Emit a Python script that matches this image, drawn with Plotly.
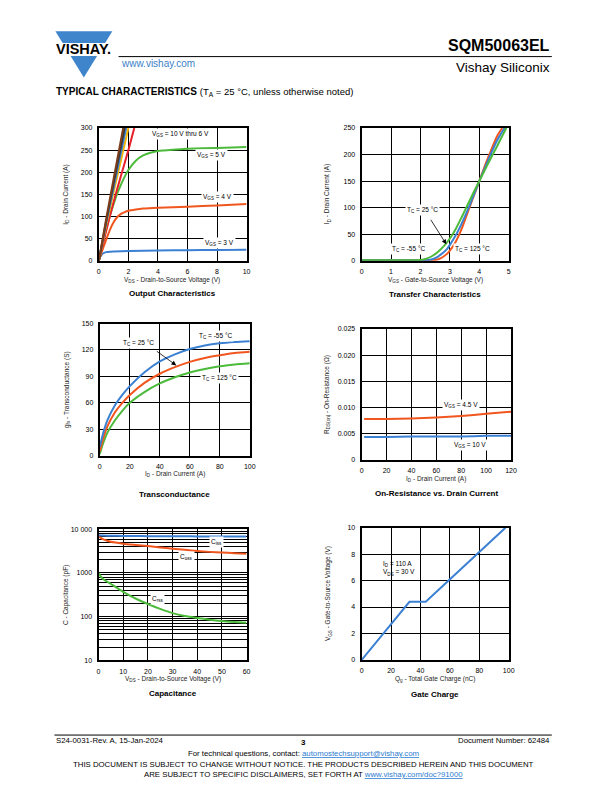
import plotly.graph_objects as go
import math

W, H = 612, 792
OFF = 8  # page margin of the html body
FONT = "Arial, Liberation Sans, sans-serif"

# ---------------- DATA ----------------
# Output characteristics (ID vs VDS)
out_vds_10v = [0, 0.5, 1.0, 1.65]
out_id_10v = [0, 95, 185, 300]
out_vds_9v = [0, 0.5, 1.0, 1.75]
out_id_9v = [0, 90, 175, 300]
out_vds_8v = [0, 0.5, 1.0, 1.85]
out_id_8v = [0, 85, 165, 300]
out_vds_7v = [0, 0.5, 1.0, 2.0]
out_id_7v = [0, 80, 155, 300]
out_vds_6v = [0, 0.5, 1.0, 1.5, 2.0, 2.4]
out_id_6v = [0, 68, 133, 192, 250, 300]
out_vds_5v = [0, 0.25, 0.5, 0.75, 1.0, 1.25, 1.5, 1.75, 2.0, 2.5, 3.0, 3.5, 4.0, 5.0, 6.0, 8.0, 10.0]
out_id_5v = [0, 38, 72, 102, 128, 152, 172, 190, 205, 226, 238, 244, 248, 251, 253, 255, 257]
out_vds_4v = [0, 0.25, 0.5, 0.75, 1.0, 1.25, 1.5, 1.75, 2.0, 2.5, 3.0, 4.0, 6.0, 8.0, 10.0]
out_id_4v = [0, 25, 48, 70, 87, 99, 106, 110, 113, 116, 118, 120, 122, 125, 128]
out_vds_3v = [0, 0.05, 0.1, 0.2, 0.3, 0.5, 0.8, 1.0, 2.0, 4.0, 6.0, 8.0, 10.0]
out_id_3v = [0, 5, 9, 14, 17, 19.5, 20.5, 21, 22, 23, 24, 24.5, 25]

# Transfer characteristics (ID vs VGS)
tr_vgs_m55 = [0, 1.0, 2.0, 2.2, 2.4, 2.6, 2.8, 3.0, 3.2, 3.4, 3.6, 3.8, 4.0, 4.2, 4.4, 4.6, 4.8, 4.92]
tr_id_m55 = [1, 1, 1.5, 4, 9, 17, 28, 42, 60, 82, 105, 128, 150, 172, 194, 215, 237, 250]
tr_vgs_25 = [0, 1.0, 2.0, 2.3, 2.5, 2.7, 2.9, 3.0, 3.2, 3.4, 3.6, 3.8, 4.0, 4.2, 4.4, 4.6, 4.86]
tr_id_25 = [1, 1, 1, 1.5, 5, 12, 22, 30, 48, 70, 95, 122, 150, 176, 202, 226, 250]
tr_vgs_125 = [0, 1.0, 2.0, 2.5, 2.7, 2.9, 3.0, 3.2, 3.4, 3.6, 3.8, 4.0, 4.2, 4.4, 4.6, 4.78]
tr_id_125 = [1, 1, 1, 1.5, 5, 13, 19, 36, 60, 90, 120, 150, 180, 208, 234, 250]

# Transconductance (gfs vs ID)
gfs_id = [0, 2, 5, 10, 15, 20, 30, 40, 50, 60, 70, 80, 90, 100]
gfs_m55 = [10, 24, 40, 57, 69, 79, 95, 107, 115, 121, 125, 127.5, 129, 130]
gfs_25 = [5, 18, 33, 49, 60, 69, 83, 93, 100.5, 106.5, 111, 114, 116.5, 118]
gfs_125 = [2, 13, 26, 40, 51, 60, 72.5, 82, 89, 94.5, 98.5, 101.5, 103.5, 105]

# On-resistance vs drain current
rds_id = [2, 20, 40, 60, 80, 100, 120]
rds_vgs45 = [0.0078, 0.0078, 0.0079, 0.0081, 0.0084, 0.0088, 0.0092]
rds_vgs10 = [0.0044, 0.0044, 0.0045, 0.0045, 0.0045, 0.0046, 0.0046]

# Capacitance vs VDS
cap_vds = [0, 1, 2, 5, 10, 15, 20, 25, 30, 35, 40, 45, 50, 55, 60]
cap_ciss = [7300, 7250, 7200, 7150, 7100, 7050, 7000, 7000, 6950, 6950, 6900, 6900, 6900, 6850, 6850]
cap_coss = [7000, 6300, 5900, 5200, 4700, 4400, 4150, 3850, 3600, 3400, 3200, 3050, 2950, 2850, 2750]
cap_crss = [1000, 820, 720, 560, 370, 260, 195, 150, 120, 103, 93, 85, 79, 75, 72]
cap_major_ticks = [10, 100, 1000, 10000]
cap_major_text = ["10", "100", "1000", "10 000"]
cap_minor_ticks = [d * m for d in (10, 100, 1000) for m in range(2, 10)]

# Gate charge
qg_nc = [0, 32.5, 43.6, 97.8]
qg_vgs = [0, 4.4, 4.4, 10]

BLUE = "#3b80d2"
ORANGE = "#f0561e"
GREEN = "#4cba3a"
RED = "#e8202a"
YELLOW = "#f6b400"
BROWN = "#7d3d1a"
DARK = "#3a3a3a"

fig = go.Figure()

def PX(x):
    return (x - OFF) / W

def PY(y):
    return 1 - (y - OFF) / H

def xd(a, b):
    return [PX(a), PX(b)]

def yd(top, bottom):
    return [PY(bottom), PY(top)]

# panel geometry (page pixels): left, right, top, bottom
panels = {
    1: (98, 247.7, 125, 259),
    2: (364.3, 513.3, 125, 259),
    3: (99, 251, 322.3, 455.7),
    4: (364.3, 515.7, 327.7, 460),
    5: (97.7, 247.7, 530, 662),
    6: (364.3, 513.3, 528.3, 661.7),
}

def axis_common():
    return dict(showline=True, linecolor="black", linewidth=2, mirror=True,
                showgrid=True, gridcolor="black", gridwidth=1.3, zeroline=False,
                ticks="outside", ticklen=3, tickcolor="rgba(0,0,0,0)",
                tickfont=dict(family=FONT, size=7, color="black"), fixedrange=True)

layout = {}
def sfx(i):
    return "" if i == 1 else str(i)

def set_axes(i, xrange_, xtickvals, xticktext, yrange_, ytickvals, yticktext, ytype="linear", yminor=None):
    l, r, t, b = panels[i]
    xa = axis_common()
    xa.update(domain=xd(l, r), range=xrange_, tickvals=xtickvals, ticktext=xticktext, anchor="y" + sfx(i))
    ya = axis_common()
    ya.update(domain=yd(t, b), range=yrange_, tickvals=ytickvals, ticktext=yticktext,
              anchor="x" + sfx(i), type=ytype)
    if yminor is not None:
        ya["minor"] = dict(tickvals=yminor, showgrid=True, gridcolor="black", gridwidth=1.3, ticks="")
    layout["xaxis" + sfx(i)] = xa
    layout["yaxis" + sfx(i)] = ya

def line(i, x, y, color, width=2, spline=True):
    ln = dict(color=color, width=width)
    if spline:
        ln.update(shape="spline", smoothing=0.6)
    fig.add_trace(go.Scatter(x=x, y=y, mode="lines", line=ln,
                             xaxis="x" + sfx(i), yaxis="y" + sfx(i),
                             showlegend=False, hoverinfo="skip"))

# Panel 1
set_axes(1, [0, 10], [0, 2, 4, 6, 8, 10], ["0", "2", "4", "6", "8", "10"],
         [0, 300], [0, 50, 100, 150, 200, 250, 300], ["0", "50", "100", "150", "200", "250", "300"])
line(1, out_vds_3v, out_id_3v, BLUE)
line(1, out_vds_4v, out_id_4v, ORANGE)
line(1, out_vds_5v, out_id_5v, GREEN)
line(1, out_vds_6v, out_id_6v, RED)
line(1, out_vds_7v, out_id_7v, YELLOW)
line(1, out_vds_8v, out_id_8v, BLUE)
line(1, out_vds_9v, out_id_9v, DARK)
line(1, out_vds_10v, out_id_10v, BROWN)

# Panel 2
set_axes(2, [0, 5], [0, 1, 2, 3, 4, 5], ["0", "1", "2", "3", "4", "5"],
         [0, 250], [0, 50, 100, 150, 200, 250], ["0", "50", "100", "150", "200", "250"])
line(2, tr_vgs_125, tr_id_125, ORANGE)
line(2, tr_vgs_25, tr_id_25, BLUE)
line(2, tr_vgs_m55, tr_id_m55, GREEN)

# Panel 3
set_axes(3, [0, 100], [0, 20, 40, 60, 80, 100], ["0", "20", "40", "60", "80", "100"],
         [0, 150], [0, 30, 60, 90, 120, 150], ["0", "30", "60", "90", "120", "150"])
line(3, gfs_id, gfs_125, GREEN)
line(3, gfs_id, gfs_25, ORANGE)
line(3, gfs_id, gfs_m55, BLUE)

# Panel 4
set_axes(4, [0, 120], [0, 20, 40, 60, 80, 100, 120], ["0", "20", "40", "60", "80", "100", "120"],
         [0, 0.025], [0, 0.005, 0.010, 0.015, 0.020, 0.025], ["0", "0.005", "0.010", "0.015", "0.020", "0.025"])
line(4, rds_id, rds_vgs45, ORANGE)
line(4, rds_id, rds_vgs10, BLUE)

# Panel 5 (log)
set_axes(5, [0, 60], [0, 10, 20, 30, 40, 50, 60], ["0", "10", "20", "30", "40", "50", "60"],
         [1, 4], cap_major_ticks, cap_major_text, ytype="log", yminor=cap_minor_ticks)
line(5, cap_vds, cap_crss, GREEN)
line(5, cap_vds, cap_coss, ORANGE)
line(5, cap_vds, cap_ciss, BLUE)

# Panel 6
set_axes(6, [0, 100], [0, 20, 40, 60, 80, 100], ["0", "20", "40", "60", "80", "100"],
         [0, 10], [0, 2, 4, 6, 8, 10], ["0", "2", "4", "6", "8", "10"])
line(6, qg_nc, qg_vgs, BLUE, spline=False)

anns = []
def px_ann(x, y, text, size=7, bold=False, xanchor="center", color="black", angle=0):
    if bold:
        text = "<b>" + text + "</b>"
    anns.append(dict(x=PX(x), y=PY(y), xref="paper", yref="paper", text=text, showarrow=False,
                     xanchor=xanchor, yanchor="middle", textangle=angle,
                     font=dict(family=FONT, size=size, color=color)))

def data_ann(i, x, y, text, size=6.5, bg="white", xanchor="center", align="center"):
    anns.append(dict(x=x, y=y, xref="x" + sfx(i), yref="y" + sfx(i), text=text, showarrow=False,
                     bgcolor=bg, borderpad=1, xanchor=xanchor, align=align,
                     font=dict(family=FONT, size=size, color="black")))

def arrow(i, x, y, ax, ay):
    s = sfx(i)
    anns.append(dict(x=x, y=y, xref="x" + s, yref="y" + s, ax=ax, ay=ay, axref="x" + s, ayref="y" + s,
                     text=" ", showarrow=True, arrowhead=2, arrowsize=1.2, arrowwidth=0.8, arrowcolor="black"))

# panel texts
data_ann(1, 5.5, 287, "V<sub>GS</sub> = 10 V thru 6 V")
data_ann(1, 7.65, 240, "V<sub>GS</sub> = 5 V")
data_ann(1, 8.05, 143, "V<sub>GS</sub> = 4 V")
data_ann(1, 8.2, 40, "V<sub>GS</sub> = 3 V")

data_ann(2, 2.07, 96, "T<sub>C</sub> = 25 °C")
data_ann(2, 1.6, 22, "T<sub>C</sub> = -55 °C")
data_ann(2, 3.78, 22, "T<sub>C</sub> = 125 °C")
arrow(2, 2.88, 31, 2.25, 86)

data_ann(3, 77, 136, "T<sub>C</sub> = -55 °C")
data_ann(3, 25.7, 128, "T<sub>C</sub> = 25 °C")
data_ann(3, 79.6, 88, "T<sub>C</sub> = 125 °C")
arrow(3, 51, 102.5, 36, 121)

data_ann(4, 79.8, 0.01055, "V<sub>GS</sub> = 4.5 V")
data_ann(4, 87, 0.00284, "V<sub>GS</sub> = 10 V")

data_ann(5, 47.7, math.log10(5150), "C<sub>iss</sub>")
data_ann(5, 35.7, math.log10(2280), "C<sub>oss</sub>")
data_ann(5, 24.1, math.log10(256), "C<sub>rss</sub>")

data_ann(6, 13.5, 6.9, "I<sub>D</sub> = 110 A<br>V<sub>DS</sub> = 30 V", xanchor="left", align="left", bg="rgba(0,0,0,0)")

# axis titles and chart captions
AX = 6.5
TC = "#222222"
px_ann(172.5, 278.3, "V<sub>DS</sub> - Drain-to-Source Voltage (V)", size=AX, color=TC)
px_ann(65, 192, "I<sub>D</sub> - Drain Current (A)", size=AX, color=TC, angle=-90)
px_ann(172.5, 292.5, "Output Characteristics", size=8, bold=True)

px_ann(438.8, 278.3, "V<sub>GS</sub> - Gate-to-Source Voltage (V)", size=AX, color=TC)
px_ann(330, 192, "I<sub>D</sub> - Drain Current (A)", size=AX, color=TC, angle=-90)
px_ann(438.8, 292.7, "Transfer Characteristics", size=8, bold=True)

px_ann(175, 474.5, "I<sub>D</sub> - Drain Current (A)", size=AX, color=TC)
px_ann(65, 389, "g<sub>fs</sub> - Transconductance (S)", size=AX, color=TC, angle=-90)
px_ann(175, 494.3, "Transconductance", size=8, bold=True)

px_ann(440, 479.3, "I<sub>D</sub> - Drain Current (A)", size=AX, color=TC)
px_ann(328.5, 394, "R<sub>DS(on)</sub> - On-Resistance (Ω)", size=AX, color=TC, angle=-90)
px_ann(440, 494, "On-Resistance vs. Drain Current", size=8, bold=True)

px_ann(172.7, 680.7, "V<sub>DS</sub> - Drain-to-Source Voltage (V)", size=AX, color=TC)
px_ann(65, 596, "C - Capacitance (pF)", size=AX, color=TC, angle=-90)
px_ann(172.7, 696, "Capacitance", size=8, bold=True)

px_ann(438.8, 680.7, "Q<sub>g</sub> - Total Gate Charge (nC)", size=AX, color=TC)
px_ann(330.5, 595, "V<sub>GS</sub> - Gate-to-Source Voltage (V)", size=AX, color=TC, angle=-90)
px_ann(438.8, 696.7, "Gate Charge", size=8, bold=True)

# header
px_ann(557, 42, "SQM50063EL", size=16, bold=True, xanchor="right")
px_ann(557, 63.5, "Vishay Siliconix", size=13.5, xanchor="right")
px_ann(118, 59.5, "www.vishay.com", size=10, xanchor="left", color="#3a7fc8")
px_ann(53, 89, "<b>TYPICAL CHARACTERISTICS</b> <span style='font-size:9.5px'>(T<sub>A</sub> = 25 °C, unless otherwise noted)</span>",
       size=10, xanchor="left")
px_ann(82.8, 45.8, "VISHAY.", size=14.5, bold=True, color="black")

# footer
px_ann(53, 743.5, "S24-0031-Rev. A, 15-Jan-2024", size=7.8, xanchor="left")
px_ann(305, 745, "3", size=8, bold=True)
px_ann(557, 743.5, "Document Number: 62484", size=7.8, xanchor="right")
px_ann(305, 756, "For technical questions, contact: <span style='color:#2b7bd0'><u>automostechsupport@vishay.com</u></span>", size=7.8)
px_ann(305, 767, "THIS DOCUMENT IS SUBJECT TO CHANGE WITHOUT NOTICE. THE PRODUCTS DESCRIBED HEREIN AND THIS DOCUMENT", size=7.8)
px_ann(305, 777, "ARE SUBJECT TO SPECIFIC DISCLAIMERS, SET FORTH AT <span style='color:#2b7bd0'><u>www.vishay.com/doc?91000</u></span>", size=7.8)

shapes = [
    dict(type="path", xref="paper", yref="paper",
         path=f"M {PX(54)} {PY(27.3)} L {PX(111.7)} {PY(27.3)} L {PX(82.8)} {PY(74)} Z",
         fillcolor="#3e85cc", line=dict(width=0), layer="below"),
    dict(type="rect", xref="paper", yref="paper", x0=PX(48), x1=PX(116), y0=PY(52.5), y1=PY(39.3),
         fillcolor="white", line=dict(width=0), layer="below"),
    dict(type="line", xref="paper", yref="paper", x0=PX(118), x1=PX(557), y0=PY(53), y1=PY(53),
         line=dict(color="black", width=1)),
    dict(type="line", xref="paper", yref="paper", x0=PX(53), x1=PX(557), y0=PY(737.5), y1=PY(737.5),
         line=dict(color="black", width=1)),
]

fig.update_layout(width=W, height=H, margin=dict(l=0, r=0, t=0, b=0),
                  paper_bgcolor="white", plot_bgcolor="white",
                  font=dict(family=FONT), showlegend=False,
                  annotations=anns, shapes=shapes, **layout)

fig.write_html("out.html", config={"displayModeBar": False})
